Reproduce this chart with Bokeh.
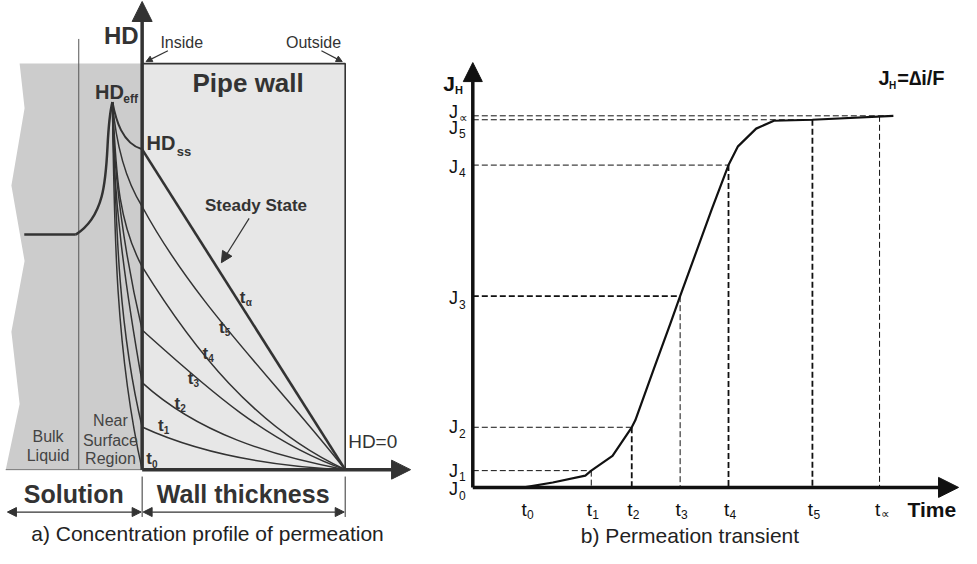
import numpy as np
from bokeh.plotting import figure
from bokeh.models import Range1d, Arrow, NormalHead
from bokeh.layouts import row
from bokeh.core.properties import value
from bokeh.embed import file_html
from bokeh.resources import INLINE

FONT = value("Liberation Sans")

# ---------------- a) Concentration profile of permeation ----------------
wall_thickness = 205          # inside (0) -> outside
wall_top = 412                # top of the pipe-wall block (HD units)
hd_ss = 325                   # steady-state HD at inside wall
bulk_level = 238.5
bulk_start = -119
separator_x = -64
hd_axis_top = 475
x_axis_end = 271

# jagged left edge of the solution block
sol_edge_x = [-123.7, -118.7, -132, -118.7, -132, -123.7, -137.7]
sol_edge_y = [412, 366.7, 288.3, 211.7, 140, 66.7, 0]

# bulk -> peak (HD_eff) rise
bulk_x = [-67, -60, -54, -48, -43.7, -39, -35.3, -32, -30]
bulk_y = [238.5, 240.5, 247, 258, 270, 295, 323.3, 350, 373]

# profiles in the near-surface region (peak -> inside wall)
ss_near_x = [-30, -23.7, -15.3, -7, 0];        ss_near_y = [373, 350, 335, 328.3, 325]
t5_near_x = [-30, -25.3, -17, -8.7, 0];        t5_near_y = [373, 336.7, 303.3, 283.3, 267]
t4_near_x = [-30, -27, -20.3, -10.3, 0];       t4_near_y = [373, 323.3, 263.3, 230, 206]
t3_near_x = [-30, -26, -19, -12, 0];           t3_near_y = [373, 300, 240, 200, 141.7]
t2_near_x = [-30, -27, -20, -10.3, 0];         t2_near_y = [373, 290, 220, 150, 88.3]
t1_near_x = [-30, -28, -22, -13.5, 0];         t1_near_y = [373, 290, 200, 110, 43.3]
t0_near_x = [-30, -29, -25, -17, -7, 0];       t0_near_y = [373, 290, 200, 100, 33.3, 0]

# profiles inside the pipe wall
t1_wall_x = [0, 53, 119.7, 205];               t1_wall_y = [43.3, 23.3, 8.3, 0]
t2_wall_x = [0, 33, 86, 153, 205];             t2_wall_y = [88.3, 63.3, 33.3, 12, 0]
t3_wall_x = [0, 39.7, 86, 136, 205];           t3_wall_y = [141.7, 106.7, 67, 33.3, 0]
t4_wall_x = [0, 19.7, 59.7, 119.7, 169.7, 205]; t4_wall_y = [206, 180, 117, 56.7, 20, 0]
t5_wall_x = [0, 39.7, 86, 136, 186.3, 205];    t5_wall_y = [267, 200, 145, 83.3, 20, 0]

profile_names = ["0", "1", "2", "3", "4", "5", "α"]

# ---------------- b) Permeation transient ----------------
time_names = ["0", "1", "2", "3", "4", "5", "∝"]
time_vals = [54, 120, 161, 210, 259, 344, 412]
flux_names = ["0", "1", "2", "3", "4", "5", "∝"]
flux_vals = [0, 17, 61, 194, 327, 373, 377]
curve_time = [52, 81, 114, 120, 141.5, 161, 164.6, 184, 200, 210, 242, 259, 268.6, 287, 305, 344, 426]
curve_flux = [0, 5, 12, 17, 32, 61, 68, 122, 166, 194, 282, 327, 346, 364, 372, 373, 377]
j_axis_top = 431
t_axis_end = 492


def bezier_fit(xs, ys):
    """Least-squares cubic Bezier through read points (ends fixed)."""
    P = np.column_stack([xs, ys]).astype(float)
    d = np.r_[0, np.cumsum(np.hypot(np.diff(P[:, 0]), np.diff(P[:, 1])))]
    t = d / d[-1]
    B0, B1, B2, B3 = (1 - t) ** 3, 3 * (1 - t) ** 2 * t, 3 * (1 - t) * t ** 2, t ** 3
    A = np.column_stack([B1, B2])
    R = P - np.outer(B0, P[0]) - np.outer(B3, P[-1])
    C, *_ = np.linalg.lstsq(A, R, rcond=None)
    return P[0], C[0], C[1], P[-1]


def draw_bezier(p, xs, ys, color, width):
    a, b, c, d = bezier_fit(xs, ys)
    p.bezier(x0=[a[0]], y0=[a[1]], x1=[d[0]], y1=[d[1]],
             cx0=[b[0]], cy0=[b[1]], cx1=[c[0]], cy1=[c[1]],
             line_color=color, line_width=width)


def bare(p):
    p.axis.visible = False
    p.grid.visible = False
    p.outline_line_color = None
    p.min_border = 0
    p.background_fill_color = "white"
    p.border_fill_color = "white"


def txt(p, x, y, s, size, color="#333", bold=False, align="center", baseline="middle"):
    p.text(x=[x], y=[y], text=[s], text_font=FONT, text_font_size=f"{size}px",
           text_font_style="bold" if bold else "normal", text_color=color,
           text_align=align, text_baseline=baseline)


DARK = "#333333"

# ======================= left figure =======================
p1 = figure(width=418, height=548, x_range=Range1d(-143, 279), y_range=Range1d(-80, 476),
            output_backend="svg", toolbar_location=None)
bare(p1)

p1.patch(x=sol_edge_x + [0, 0], y=sol_edge_y + [0, wall_top],
         fill_color="#cccccc", line_color=None)
p1.line(x=[sol_edge_x[-1], 0], y=[0, 0], line_color="#777777", line_width=1)
p1.quad(left=[0], right=[wall_thickness], bottom=[0], top=[wall_top],
        fill_color="#e7e7e7", line_color=None)
p1.line(x=[0, wall_thickness, wall_thickness], y=[wall_top, wall_top, 0],
        line_color=DARK, line_width=1.6)
p1.line(x=[separator_x, separator_x], y=[0, 437], line_color="#555555", line_width=1)

p1.line(x=[bulk_start, bulk_x[0]], y=[bulk_level, bulk_level], line_color=DARK, line_width=2.5)
draw_bezier(p1, bulk_x, bulk_y, DARK, 2.5)

for xs, ys, w in [(ss_near_x, ss_near_y, 2), (t5_near_x, t5_near_y, 1.5),
                  (t4_near_x, t4_near_y, 1.5), (t3_near_x, t3_near_y, 1.5),
                  (t2_near_x, t2_near_y, 1.5), (t1_near_x, t1_near_y, 1.5),
                  (t0_near_x, t0_near_y, 1.5)]:
    draw_bezier(p1, xs, ys, DARK, w)

for xs, ys in [(t1_wall_x, t1_wall_y), (t2_wall_x, t2_wall_y), (t3_wall_x, t3_wall_y),
               (t4_wall_x, t4_wall_y), (t5_wall_x, t5_wall_y)]:
    draw_bezier(p1, xs, ys, DARK, 1.5)
p1.line(x=[0, wall_thickness], y=[hd_ss, 0], line_color=DARK, line_width=2.6)

p1.add_layout(Arrow(end=NormalHead(size=20, fill_color=DARK, line_color=DARK),
                    x_start=0, y_start=0, x_end=0, y_end=hd_axis_top,
                    line_color=DARK, line_width=3.5))
p1.add_layout(Arrow(end=NormalHead(size=19, fill_color=DARK, line_color=DARK),
                    x_start=0, y_start=0, x_end=x_axis_end, y_end=0,
                    line_color=DARK, line_width=3.5))

for xs, ys, xe, ye, sz in [(26, 425, 4, 414, 6), (181, 425, 202, 414, 6), (108, 255, 80, 210, 11)]:
    p1.add_layout(Arrow(end=NormalHead(size=sz, fill_color=DARK, line_color=DARK),
                        x_start=xs, y_start=ys, x_end=xe, y_end=ye,
                        line_color=DARK, line_width=1.2))

for xa, xb in [(-137, 0), (0, wall_thickness)]:
    p1.add_layout(Arrow(start=NormalHead(size=9, fill_color=DARK, line_color=DARK),
                        end=NormalHead(size=9, fill_color=DARK, line_color=DARK),
                        x_start=xa + 1, y_start=-43, x_end=xb - 1, y_end=-43,
                        line_color=DARK, line_width=1.2))
for xv in [0, wall_thickness]:
    p1.line(x=[xv, xv], y=[-7, -48], line_color=DARK, line_width=1)

txt(p1, -21, 440, "HD", 24, DARK, True)
txt(p1, 40, 433, "Inside", 16, DARK)
txt(p1, 173, 433, "Outside", 16, DARK)
txt(p1, 107, 392, "Pipe wall", 26, DARK, True)
txt(p1, -33, 383.5, "HD", 20, DARK, True)
txt(p1, -19, 376, "eff", 12, DARK, True, align="left")
txt(p1, 19, 331, "HD", 20, DARK, True)
txt(p1, 35, 323, "ss", 13, DARK, True, align="left")
txt(p1, 115, 268, "Steady State", 17, DARK, True)
txt(p1, 208, 29, "HD=0", 19, DARK, align="left")
txt(p1, -95, 34, "Bulk", 16, "#444444")
txt(p1, -95, 14, "Liquid", 16, "#444444")
txt(p1, -32, 50, "Near", 16, "#444444")
txt(p1, -32, 30, "Surface", 16, "#444444")
txt(p1, -32, 11, "Region", 16, "#444444")
txt(p1, -69, -25, "Solution", 25, DARK, True)
txt(p1, 102, -25, "Wall thickness", 25, DARK, True)
txt(p1, 66, -65, "a) Concentration profile of permeation", 21, "#222222")

profile_label_pos = [(7, 11), (18.8, 45), (35.5, 67.5), (48.8, 92.5),
                     (63.8, 118.3), (80.5, 144.2), (101.5, 174.2)]
for name, (lx, ly) in zip(profile_names, profile_label_pos):
    txt(p1, lx, ly, "t", 17, DARK, True)
    txt(p1, lx + 3, ly - 5, name, 10, DARK, True, align="left")

# ======================= right figure =======================
INK = "#111111"
p2 = figure(width=543, height=548, x_range=Range1d(-55, 495), y_range=Range1d(-62, 494),
            output_backend="svg", toolbar_location=None)
bare(p2)

h_end = [time_vals[k] for k in range(1, 6)] + [curve_time[-1]]
h_w = [1, 1, 1.8, 1, 1, 1]
v_w = [1, 1.8, 1, 1.8, 1.8, 1]
p2.segment(x0=[0] * 6, y0=flux_vals[1:], x1=h_end, y1=flux_vals[1:],
           line_color=INK, line_width=h_w, line_dash="6 3")
p2.segment(x0=time_vals[1:], y0=flux_vals[1:], x1=time_vals[1:], y1=[0] * 6,
           line_color=INK, line_width=v_w, line_dash="6 3")

p2.line(x=curve_time, y=curve_flux, line_color=INK, line_width=2.2)

p2.add_layout(Arrow(end=NormalHead(size=19, fill_color=INK, line_color=INK),
                    x_start=0, y_start=0, x_end=0, y_end=j_axis_top,
                    line_color=INK, line_width=3.5))
p2.add_layout(Arrow(end=NormalHead(size=20, fill_color=INK, line_color=INK),
                    x_start=0, y_start=0, x_end=t_axis_end, y_end=0,
                    line_color=INK, line_width=3.5))

flux_label_shift = [-2, 0, 0, -2, -2, -8, 4]
for name, v, s in zip(flux_names, flux_vals, flux_label_shift):
    txt(p2, -15, v + s, "J", 18, INK, align="right")
    txt(p2, -14, v + s - 6, name, 12, INK, align="left")

for name, v in zip(time_names, time_vals):
    txt(p2, v - 2, -22, "t", 19, INK)
    txt(p2, v + 1, -27, name, 12, INK, align="left")

txt(p2, -24, 410, "J", 21, INK, True)
txt(p2, -18, 403, "H", 11, INK, True, align="left")
txt(p2, 416.5, 415, "J", 20, INK, True)
txt(p2, 421.5, 408, "H", 10, INK, True, align="left")
txt(p2, 430, 415, "=∆i/F", 20, INK, True, align="left")
txt(p2, 465, -22, "Time", 21, INK, True)
txt(p2, 220, -49, "b) Permeation transient", 21, "#222222")

layout = row(p1, p2)
open("out.html", "w").write(file_html(layout, INLINE))
